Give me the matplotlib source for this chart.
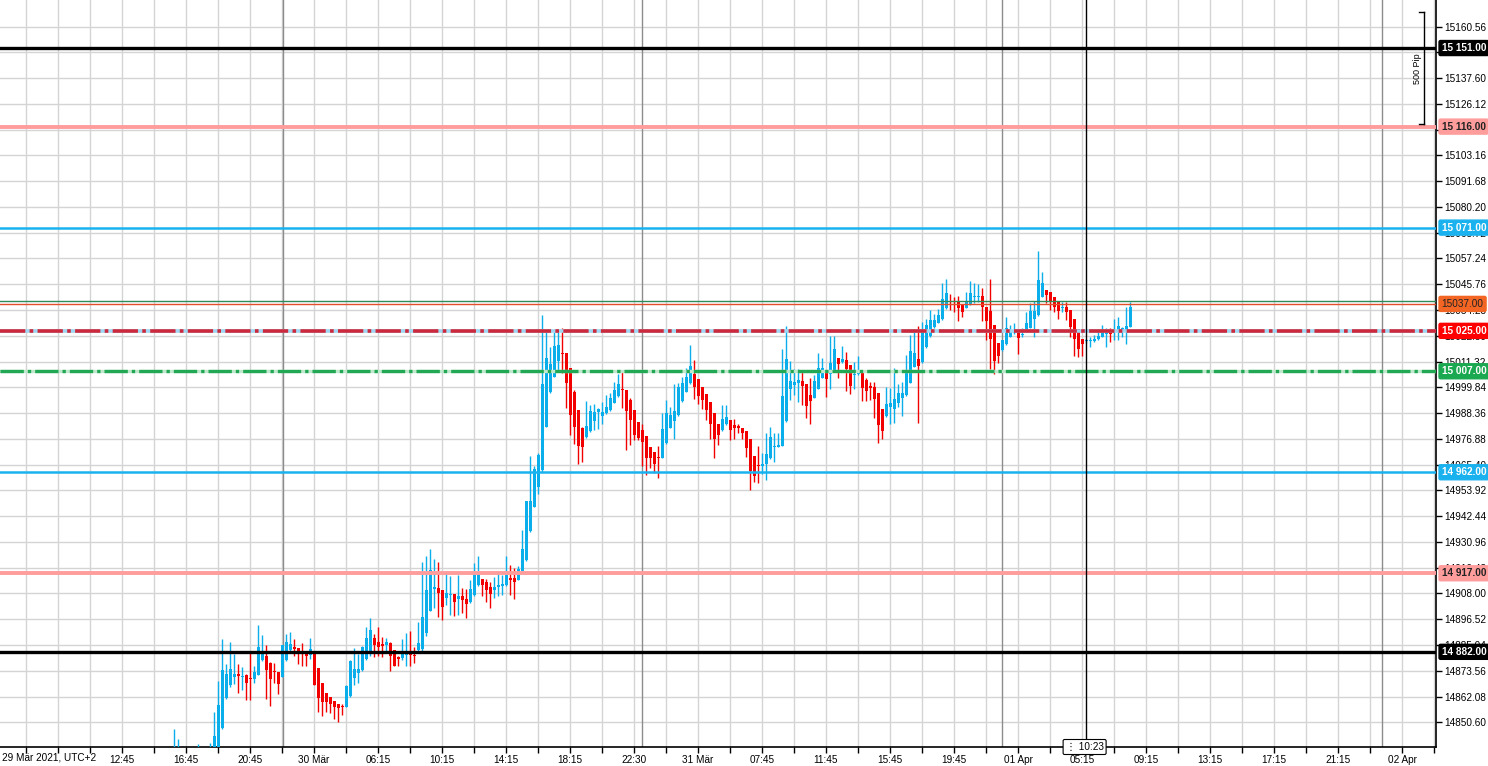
import numpy as np
import matplotlib
matplotlib.use('Agg')
import matplotlib.pyplot as plt

plt.rcParams['font.family'] = ['Liberation Sans', 'DejaVu Sans']

nan = np.nan

# 15 min bars, index 0 = first bar on screen
opens = [14832, 14832, nan, nan, nan, nan, 14834, nan, nan, 14834,
         14832, 14836, 14848.2, 14861.6, 14867.3, 14870.9, 14871.8, 14870.8, 14871.8, 14870.2,
         14869.7, 14871.8, 14878.2, 14880.3, 14877.0, 14873.5, 14872.9, 14870.6, 14878.2, 14883.0,
         14884.1, 14883.7, 14881.5, 14881.3, 14880.8, 14881.1, 14874.9, 14868.0, 14863.7, 14861.8,
         14860.0, 14858.9, 14857.8, 14857.6, 14862.5, 14870.4, 14872.5, 14873.7, 14878.9, 14881.1,
         14888.0, 14886.5, 14885.1, 14885.2, 14886.0, 14882.8, 14879.5, 14879.1, 14880.7, 14881.1,
         14880.8, 14882.8, 14883.2, 14890.4, 14900.4, 14909.9, 14910.5, 14909.6, 14905.8, 14907.3,
         14907.8, 14905.6, 14906.7, 14905.5, 14904.3, 14907.4, 14911.9, 14914.4, 14913.2, 14911.1,
         14909.6, 14911.1, 14911.5, 14911.9, 14915.1, 14914.7, 14914.1, 14918.2, 14922.7, 14936.0,
         14946.7, 14955.6, 14962.8, 14982.3, 14997.9, 15004.6, 15011.6, 15015.3, 15015.3, 15008.3,
         14997.9, 14989.8, 14981.9, 14977.9, 14980.4, 14985.0, 14989.0, 14987.2, 14988.3, 14989.8,
         14993.0, 14996.0, 14998.9, 14998.7, 14994.2, 14989.8, 14984.4, 14980.7, 14978.1, 14973.2,
         14970.9, 14968.5, 14968.4, 14975.1, 14981.8, 14984.9, 14987.5, 14993.7, 14997.9, 15001.6,
         15005.8, 15003.4, 15000.1, 14996.9, 14993.4, 14988.2, 14983.3, 14980.8, 14983.6, 14985.2,
         14983.0, 14982.5, 14981.9, 14980.5, 14976.9, 14969.1, 14965.0, 14964.6, 14965.8, 14968.4,
         14973.2, 14973.3, 14973.8, 14984.9, 14999.1, 15000.9, 15001.6, 15002.7, 15001.3, 14996.4,
         14995.2, 14999.1, 15004.2, 15006.8, 15005.7, 15007.6, 15012.8, 15011.3, 15012.1, 15009.8,
         15005.4, 15005.6, 15006.1, 15003.1, 15000.4, 14999.8, 14997.2, 14990.1, 14987.2, 14991.0,
         14990.2, 14992.7, 14995.1, 14996.4, 15001.9, 15009.0, 15012.4, 15011.2, 15017.9, 15022.7,
         15026.5, 15028.6, 15030.2, 15035.1, 15038.4, 15038.4, 15038.2, 15036.3, 15035.3, 15036.8,
         15039.9, 15040.0, 15040.5, 15035.7, 15033.8, 15027.6, 15019.4, 15016.4, 15019.1, 15022.4,
         15024.1, 15025.0, 15023.3, 15024.9, 15026.2, 15030.2, 15032.0, 15040.2, 15043.1, 15042.1,
         15039.9, 15037.9, 15035.2, 15035.7, 15034.2, 15030.5, 15025.8, 15021.3, 15020.6, 15020.4,
         15020.6, 15021.3, 15022.4, 15023.6, 15024.1, 15024.6, 15025.0, 15025.3, 15025.6, 15026.8]

highs = [14847.5, 14843.0, nan, nan, nan, nan, 14841.0, nan, nan, 14841.5,
         14855.1, 14869.1, 14887.9, 14876.5, 14886.4, 14881.0, 14876.5, 14875.2, 14872.0, 14881.4,
         14875.5, 14894.0, 14889.5, 14884.9, 14877.3, 14877.0, 14873.2, 14885.2, 14889.9, 14890.8,
         14887.9, 14883.7, 14885.9, 14881.8, 14888.1, 14881.4, 14874.9, 14868.0, 14863.7, 14862.0,
         14860.3, 14858.9, 14858.9, 14867.0, 14878.2, 14883.7, 14881.1, 14884.4, 14893.2, 14897.2,
         14889.8, 14893.1, 14888.6, 14888.2, 14886.5, 14883.0, 14880.0, 14887.7, 14890.4, 14891.3,
         14884.1, 14895.2, 14921.9, 14924.5, 14927.7, 14923.3, 14922.2, 14909.6, 14918.2, 14915.9,
         14907.8, 14916.3, 14910.4, 14910.0, 14914.1, 14921.5, 14924.8, 14914.4, 14914.4, 14912.9,
         14915.3, 14916.7, 14916.3, 14924.5, 14920.5, 14919.3, 14920.1, 14936.3, 14949.0, 14969.3,
         14964.8, 14970.5, 15032.1, 15024.6, 15017.7, 15024.6, 15024.6, 15026.1, 15015.3, 15008.3,
         14998.7, 14989.8, 14982.0, 14993.8, 14992.0, 14992.4, 14990.5, 14993.5, 14996.4, 14997.2,
         15002.4, 15005.8, 15007.3, 14998.7, 14995.0, 14989.8, 14984.4, 14983.3, 14978.1, 14973.2,
         14970.9, 14973.6, 14988.2, 14994.2, 14990.9, 15001.2, 15001.6, 15004.6, 15008.6, 15018.8,
         15011.8, 15003.4, 15000.1, 14996.9, 14993.4, 14988.2, 14983.3, 14991.9, 14991.9, 14985.2,
         14985.8, 14983.6, 14981.9, 14980.5, 14976.9, 14969.1, 14973.7, 14970.8, 14979.3, 14982.2,
         14979.5, 14979.5, 15016.8, 15027.3, 15011.6, 15008.0, 15008.0, 15007.3, 15001.3, 15003.9,
         15005.4, 15015.0, 15012.8, 15006.8, 15022.5, 15022.9, 15012.8, 15018.3, 15015.5, 15009.8,
         15011.3, 15013.9, 15006.1, 15004.2, 15002.3, 15002.0, 14997.2, 14990.1, 14999.8, 14999.4,
         15008.3, 15001.1, 15002.3, 15014.2, 15023.1, 15025.3, 15027.1, 15029.0, 15030.5, 15034.2,
         15032.5, 15034.7, 15046.4, 15047.9, 15041.4, 15040.2, 15040.5, 15036.3, 15042.4, 15047.3,
         15046.1, 15045.7, 15043.9, 15035.7, 15047.9, 15027.6, 15019.4, 15020.9, 15031.0, 15027.6,
         15028.3, 15025.6, 15026.4, 15033.5, 15037.2, 15038.2, 15060.5, 15051.0, 15043.1, 15042.1,
         15039.9, 15037.9, 15037.9, 15037.9, 15034.2, 15030.5, 15025.8, 15021.3, 15021.2, 15022.4,
         15023.1, 15025.3, 15027.6, 15026.1, 15026.1, 15030.5, 15031.0, 15026.8, 15035.7, 15038.0]

lows = [14830, 14830, nan, nan, nan, nan, 14830, nan, nan, 14830,
        14830, 14834, 14847.6, 14861.0, 14866.5, 14867.6, 14863.6, 14865.1, 14860.4, 14860.4,
        14868.2, 14871.5, 14877.8, 14860.9, 14858.0, 14868.0, 14863.1, 14870.6, 14877.8, 14882.3,
        14880.0, 14876.7, 14875.5, 14875.5, 14878.9, 14867.2, 14855.4, 14853.6, 14855.2, 14854.6,
        14852.1, 14850.6, 14853.7, 14857.6, 14862.0, 14867.0, 14868.0, 14873.3, 14878.5, 14880.0,
        14879.7, 14880.0, 14879.7, 14882.3, 14873.4, 14875.5, 14875.6, 14878.5, 14875.8, 14875.8,
        14877.0, 14882.0, 14882.5, 14889.0, 14900.0, 14901.5, 14897.5, 14896.3, 14903.0, 14898.5,
        14898.0, 14898.5, 14899.2, 14897.0, 14903.7, 14907.0, 14911.2, 14906.7, 14904.4, 14901.5,
        14905.9, 14906.7, 14907.4, 14911.2, 14907.4, 14905.5, 14913.8, 14917.8, 14922.3, 14935.6,
        14946.4, 14952.2, 14962.3, 14982.0, 14997.5, 15004.3, 15006.8, 15006.1, 14990.5, 14978.6,
        14974.6, 14965.7, 14966.5, 14977.2, 14980.0, 14980.9, 14981.4, 14983.5, 14988.0, 14989.5,
        14992.7, 14995.7, 14990.5, 14972.0, 14974.2, 14976.4, 14976.4, 14964.7, 14960.9, 14963.9,
        14961.8, 14959.6, 14968.4, 14974.8, 14981.5, 14976.7, 14987.2, 14993.4, 14997.6, 15001.3,
        14994.5, 14992.4, 14990.0, 14985.5, 14977.0, 14968.5, 14974.0, 14980.4, 14983.2, 14976.3,
        14977.0, 14979.3, 14976.7, 14968.8, 14953.9, 14957.6, 14957.2, 14961.4, 14958.4, 14968.1,
        14966.4, 14973.3, 14973.6, 14984.5, 14994.2, 14996.4, 14993.4, 14992.0, 14986.0, 14983.4,
        14994.9, 14999.1, 15003.9, 14995.7, 14999.1, 15007.6, 15003.9, 15010.6, 14998.3, 14996.9,
        14999.1, 15005.2, 14993.7, 14993.9, 14994.2, 14986.0, 14975.2, 14977.0, 14986.8, 14983.5,
        14984.1, 14991.2, 14987.0, 14996.1, 15001.6, 15008.7, 14984.1, 15010.9, 15017.5, 15022.4,
        15026.1, 15028.3, 15029.8, 15034.9, 15034.2, 15033.5, 15029.3, 15031.3, 15035.0, 15036.5,
        15037.2, 15037.9, 15029.5, 15020.9, 15007.8, 15005.7, 15010.8, 15016.0, 15018.7, 15022.1,
        15023.8, 15014.5, 15022.4, 15024.6, 15026.1, 15022.4, 15031.7, 15039.9, 15037.2, 15034.2,
        15033.5, 15030.5, 15033.5, 15029.8, 15022.1, 15013.9, 15013.2, 15013.8, 15019.8, 15017.6,
        15020.2, 15020.9, 15022.1, 15017.9, 15020.1, 15021.0, 15021.0, 15022.4, 15019.1, 15026.5]

closes = [14838, 14838, nan, nan, nan, nan, 14837, nan, nan, 14837,
          14844.5, 14858.5, 14874.0, 14872.2, 14874.4, 14872.2, 14871.4, 14871.2, 14868.3, 14869.9,
          14873.1, 14884.3, 14882.0, 14873.7, 14870.0, 14872.8, 14867.7, 14885.2, 14886.2, 14885.5,
          14883.4, 14881.1, 14881.1, 14880.0, 14883.4, 14867.4, 14861.6, 14859.7, 14859.7, 14858.9,
          14857.5, 14857.0, 14857.5, 14866.8, 14878.0, 14874.4, 14874.4, 14884.3, 14888.3, 14891.9,
          14885.2, 14884.0, 14884.8, 14886.5, 14880.0, 14875.5, 14878.8, 14881.0, 14881.3, 14880.4,
          14880.0, 14886.0, 14897.7, 14909.6, 14918.5, 14911.0, 14908.4, 14901.9, 14908.1, 14907.8,
          14904.0, 14906.7, 14904.9, 14903.4, 14910.2, 14916.3, 14916.6, 14911.9, 14909.6, 14907.6,
          14911.1, 14911.9, 14912.2, 14916.3, 14914.0, 14913.2, 14919.0, 14928.0, 14949.0, 14949.0,
          14963.6, 14969.7, 15001.3, 15012.8, 15010.2, 15018.3, 15018.7, 15014.8, 15001.9, 14987.5,
          14982.3, 14973.9, 14973.4, 14982.6, 14989.3, 14988.9, 14990.3, 14988.9, 14991.2, 14995.3,
          14998.7, 15001.3, 14998.6, 14989.3, 14985.3, 14978.6, 14977.1, 14975.5, 14968.4, 14968.4,
          14965.7, 14968.2, 14981.2, 14988.2, 14987.5, 14989.2, 15000.1, 15001.9, 15004.6, 15009.4,
          14999.9, 14996.0, 14994.2, 14989.7, 14983.4, 14977.0, 14978.5, 14985.7, 14986.4, 14980.8,
          14981.8, 14981.5, 14979.3, 14972.8, 14962.4, 14960.3, 14964.6, 14965.8, 14970.3, 14977.8,
          14973.5, 14974.0, 14996.0, 15012.5, 15002.7, 15002.4, 15003.1, 15000.6, 14991.6, 14993.9,
          15002.7, 15008.3, 15008.6, 15003.6, 15010.6, 15016.8, 15010.1, 15012.4, 15007.9, 15000.6,
          15005.8, 15007.6, 14999.7, 14998.3, 14999.5, 14994.6, 14983.0, 14980.3, 14992.4, 14993.0,
          14994.5, 14997.1, 14997.3, 15006.8, 15016.0, 15015.0, 15009.3, 15025.3, 15027.6, 15029.8,
          15029.8, 15032.0, 15039.4, 15042.0, 15038.0, 15038.0, 15035.3, 15033.3, 15038.0, 15042.0,
          15040.6, 15040.3, 15035.7, 15029.3, 15021.5, 15011.7, 15013.9, 15020.9, 15026.1, 15025.3,
          15025.3, 15021.9, 15023.5, 15028.3, 15033.8, 15033.8, 15047.6, 15046.4, 15041.1, 15038.4,
          15035.7, 15033.8, 15035.4, 15033.5, 15026.5, 15021.5, 15016.9, 15019.0, 15020.9, 15020.9,
          15021.5, 15022.7, 15025.6, 15024.1, 15023.6, 15025.3, 15027.1, 15026.1, 15027.1, 15035.5]

# horizontal levels drawn on the chart
level_prices = [15151, 15116, 15071, 15025, 15007, 14962, 14917, 14882]
level_texts = ['15 151.00', '15 116.00', '15 071.00', '15 025.00', '15 007.00',
               '14 962.00', '14 917.00', '14 882.00']
bid_price = 15037.0
ask_price = 15038.3

time_labels = ['12:45', '16:45', '20:45', '30 Mär', '06:15', '10:15', '14:15', '18:15',
               '22:30', '31 Mär', '07:45', '11:45', '15:45', '19:45', '01 Apr', '05:15',
               '09:15', '13:15', '17:15', '21:15', '02 Apr']
day_breaks = [27.2, 116.9, 206.9, 301.9]
cursor_bar = 227.9
cursor_text = '10:23'

o = np.array(opens)
h = np.array(highs)
l = np.array(lows)
c = np.array(closes)
idx = np.arange(len(o))

BLUE = '#0aaeea'
RED = '#f20000'

fig = plt.figure(figsize=(14.88, 7.66), dpi=100)
ax = fig.add_axes([0, 19 / 766, 1436 / 1488, 747 / 766])

ax.set_xlim(-43.6, 315.4)
ax.set_ylim(14839.6, 15172.4)

# grid
yticks = 14850.60 + 11.48 * np.arange(28)
for y in yticks:
    ax.axhline(y, color='#d4d4d4', lw=1, zorder=0)
grid_x = -37.1 + 8 * np.arange(45)
for x in grid_x:
    ax.axvline(x, color='#d4d4d4', lw=1, zorder=0)
for x in day_breaks:
    ax.axvline(x, color='#8c8c8c', lw=1, zorder=1)

# candles
up = c >= o
colors = np.where(up, BLUE, RED)
ax.vlines(idx, l, h, colors=colors, lw=1.0, zorder=3)
body = np.maximum(np.abs(c - o), 0.5)
ax.bar(idx, body, bottom=np.minimum(o, c), width=0.78, color=colors,
       edgecolor='none', zorder=4)

# level lines
ax.axhline(15151, color='black', lw=2.4, zorder=5)
ax.axhline(14882, color='black', lw=2.4, zorder=5)
ax.axhline(15116, color='#ff9c9c', lw=2.8, zorder=5)
ax.axhline(14917, color='#ff9c9c', lw=2.8, zorder=5)
ax.axhline(15071, color='#1ab2ee', lw=1.8, zorder=5)
ax.axhline(14962, color='#1ab2ee', lw=1.8, zorder=5)
ax.axhline(15025, color='#9fd6f2', lw=2.6, zorder=5)
ax.axhline(15025, color='#cc2a3c', lw=2.6, ls=(0, (7, 1.2, 1, 1.2)), zorder=5)
ax.axhline(15007, color='#bfe8cd', lw=2.4, zorder=5)
ax.axhline(15007, color='#22a855', lw=2.4, ls=(0, (7, 1.2, 1, 1.2)), zorder=5)
ax.axhline(ask_price, color='#2e8b57', lw=1, zorder=5)
ax.axhline(bid_price, color='#e0502a', lw=1, zorder=5)

# crosshair
ax.axvline(cursor_bar, color='black', lw=1, zorder=6)

# axes styling
for s in ['left', 'top']:
    ax.spines[s].set_visible(False)
ax.spines['right'].set_linewidth(1.2)
ax.spines['bottom'].set_linewidth(1.2)
ax.yaxis.tick_right()
ax.set_yticks(yticks)
ax.set_yticklabels(['%.2f' % v for v in yticks])
ax.tick_params(axis='y', length=4, width=1, pad=2, labelsize=7.2)
ax.set_xticks(-13.1 + 16 * np.arange(len(time_labels)))
ax.set_xticklabels(time_labels)
ax.set_xticks(grid_x, minor=True)
ax.tick_params(axis='x', which='both', length=4, width=1, pad=2, labelsize=7.2)
fig.text(2 / 1488, 1 - 758 / 766, '29 Mär 2021, UTC+2', fontsize=7.2,
         ha='left', va='center')

# price boxes on the right
box_fc = ['black', '#ff9c9c', '#1ab2ee', '#ff0000', '#1aa850', '#1ab2ee', '#ff9c9c', 'black']
box_tc = ['white', '#222222', 'white', 'white', 'white', 'white', '#222222', 'white']
for p, t, fc, tc in zip(level_prices, level_texts, box_fc, box_tc):
    ax.annotate(t, xy=(1, p), xycoords=('axes fraction', 'data'), xytext=(4, 0),
                textcoords='offset points', ha='left', va='center', fontsize=7.2,
                fontweight='bold', color=tc, zorder=10, annotation_clip=False,
                bbox=dict(boxstyle='round,pad=0.25,rounding_size=0.15', fc=fc, ec=fc))
ax.annotate('%.2f' % bid_price, xy=(1, bid_price), xycoords=('axes fraction', 'data'),
            xytext=(4, 0), textcoords='offset points', ha='left', va='center',
            fontsize=7.2, color='#222222', zorder=10, annotation_clip=False,
            bbox=dict(boxstyle='round,pad=0.25,rounding_size=0.15', fc='#f26522', ec='#f26522'))

# 500 pip ruler
xr = 1424 / 1436
ax.plot([xr, xr], [15117, 15167], color='black', lw=1, transform=ax.get_yaxis_transform(),
        clip_on=False, zorder=7)
for yy in [15117, 15167]:
    ax.plot([xr - 5 / 1436, xr], [yy, yy], color='black', lw=1,
            transform=ax.get_yaxis_transform(), clip_on=False, zorder=7)
ax.text(1418 / 1436, 15142, '500 Pip', rotation=90, fontsize=6.5, ha='center', va='center',
        transform=ax.get_yaxis_transform(), zorder=7)

# cursor time box
ax.annotate('\u22ee ' + cursor_text, xy=(cursor_bar, 0), xycoords=('data', 'axes fraction'),
            xytext=(-1, 0), textcoords='offset points', ha='center', va='center',
            fontsize=7.2, zorder=11, annotation_clip=False,
            bbox=dict(boxstyle='round,pad=0.25,rounding_size=0.15', fc='white', ec='black', lw=0.8))

fig.savefig('out.png', dpi=100, facecolor='white')
